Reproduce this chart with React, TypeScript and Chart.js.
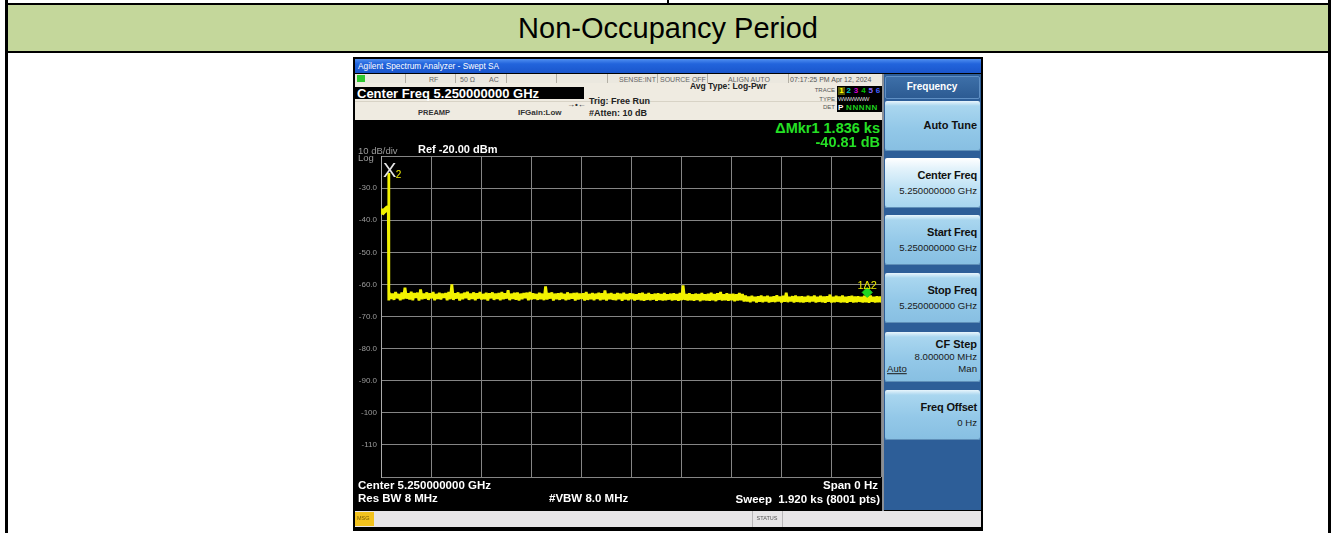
import React, { useEffect, useRef } from 'react';
import { Chart, registerables } from 'chart.js';

Chart.register(...registerables);

const FONT = "'Liberation Sans', Arial, Helvetica, sans-serif";

// ---------- data ----------
const TITLE = 'Non-Occupancy Period';
const SWEEP_TIME_S = 1920;
const X_DIV_S = 192;
const REF_LEVEL_DBM = -20;
const BOTTOM_LEVEL_DBM = -120;
const Y_DIV_DB = 10;
const Y_TICK_VALUES = [-20, -30, -40, -50, -60, -70, -80, -90, -100, -110, -120];
const Y_TICK_LABELS = ['', '-30.0', '-40.0', '-50.0', '-60.0', '-70.0', '-80.0', '-90.0', '-100', '-110', ''];

// trace before the channel move (time s / level dBm)
const PRE_TIME = [0, 2, 4, 6, 8, 10, 12, 14, 16, 18, 20, 22, 24, 26, 28, 29.6, 30.4];
const PRE_LEVEL = [-37.8, -36.4, -37.9, -36.6, -38.0, -36.8, -37.6, -36.2, -37.4, -35.9, -37.1, -35.6, -36.6, -35.4, -35.9, -25.3, -65.0];

// noise floor after the move, sampled every NOISE_STEP_S from NOISE_START_S
const NOISE_START_S = 32;
const NOISE_STEP_S = 6;
const NOISE_LEVEL = [
  -62.6, -64.5, -62.9, -64.8, -62.4, -64.3, -63.0, -64.9, -62.5, -64.6, -61.0, -64.4,
  -62.8, -64.7, -62.3, -64.9, -62.7, -64.2, -62.6, -65.0, -61.6, -64.6, -62.9, -64.4,
  -62.5, -64.8, -62.8, -64.3, -62.4, -64.9, -63.0, -64.5, -62.6, -64.7, -62.9, -64.2,
  -62.7, -64.9, -62.4, -64.6, -60.0, -64.8, -62.8, -64.4, -62.5, -65.0, -62.9, -64.6,
  -62.6, -64.3, -62.3, -64.8, -62.9, -64.5, -62.5, -64.9, -62.8, -64.4, -62.4, -64.7,
  -63.0, -64.6, -62.6, -65.0, -62.8, -64.3, -62.5, -64.8, -62.9, -64.5, -62.7, -64.9,
  -62.4, -64.6, -62.8, -64.4, -61.8, -64.9, -62.9, -64.5, -62.6, -64.8, -62.5, -65.0,
  -62.9, -64.6, -62.7, -64.3, -62.6, -64.9, -62.4, -64.7, -62.8, -64.5, -63.0, -64.8,
  -62.6, -64.6, -62.9, -64.9, -60.6, -64.7, -62.7, -64.4, -62.5, -65.0, -62.9, -64.6,
  -62.8, -64.8, -62.6, -64.5, -63.0, -64.9, -62.5, -64.7, -62.9, -64.4, -62.7, -65.0,
  -62.6, -64.7, -62.9, -64.5, -62.8, -65.0, -62.4, -64.8, -63.0, -64.6, -62.7, -64.9,
  -62.9, -64.5, -62.6, -64.9, -62.8, -64.7, -61.9, -65.0, -62.9, -64.6, -62.7, -64.8,
  -63.0, -64.9, -62.7, -64.6, -62.9, -65.1, -62.6, -64.7, -63.0, -64.9, -62.8, -64.6,
  -62.9, -65.0, -63.1, -64.7, -62.8, -64.9, -62.6, -65.1, -63.0, -64.8, -62.7, -64.9,
  -63.1, -64.7, -62.9, -65.1, -62.8, -64.8, -63.0, -65.0, -62.7, -64.9, -63.1, -64.7,
  -62.9, -65.0, -62.8, -64.8, -63.0, -65.1, -62.7, -64.9, -60.3, -64.8, -63.0, -65.0,
  -62.8, -64.9, -63.1, -65.1, -62.9, -64.8, -63.0, -65.2, -62.7, -64.9, -63.1, -65.0,
  -62.9, -65.1, -62.6, -64.9, -63.0, -65.2, -62.8, -64.8, -62.4, -65.0, -63.1, -64.9,
  -62.8, -65.1, -63.0, -64.9, -62.9, -65.2, -63.1, -65.0, -62.7, -64.9, -63.0, -65.3,
  -63.5, -65.3, -63.8, -65.5, -63.6, -65.2, -63.9, -65.6, -63.7, -65.4, -63.5, -65.5,
  -63.8, -65.3, -63.6, -65.6, -63.9, -65.4, -63.7, -65.5, -63.4, -65.3, -63.8, -65.6,
  -63.6, -65.4, -62.6, -65.5, -63.9, -65.3, -63.7, -65.6, -63.5, -65.4, -63.8, -65.5,
  -63.7, -65.6, -63.9, -65.4, -63.6, -65.5, -63.8, -65.3, -63.5, -65.6, -63.9, -65.4,
  -63.6, -65.5, -63.8, -65.7, -63.7, -65.4, -63.2, -65.6, -63.9, -65.5, -63.6, -65.4,
  -63.8, -65.6, -63.5, -65.5, -63.9, -65.7, -63.7, -65.4, -63.6, -65.6, -63.8, -65.5,
  -63.7, -65.4, -63.9, -65.6, -63.6, -65.5, -63.8, -65.7, -63.5, -65.4, -63.9, -65.6,
  -63.7, -65.5, -63.8, -65.6,
];

const MKR2_TIME = 29.6;
const MKR2_LEVEL = -25.3;
const MKR1_TIME = 1867;
const MKR1_LEVEL = -62.5;

const SOFTKEYS = [
  { title: 'Auto Tune', lines: [] as string[] },
  { title: 'Center Freq', lines: ['5.250000000 GHz'] },
  { title: 'Start Freq', lines: ['5.250000000 GHz'] },
  { title: 'Stop Freq', lines: ['5.250000000 GHz'] },
  { title: 'CF Step', lines: ['8.000000 MHz', 'AUTO_MAN'] },
  { title: 'Freq Offset', lines: ['0 Hz'] },
];

// ---------- helpers ----------
type TP = {
  x: number; y: number; children: React.ReactNode; size?: number; color?: string;
  weight?: number; align?: 'left' | 'right' | 'center'; style?: React.CSSProperties;
};
function T({ x, y, children, size = 8, color = '#000', weight = 400, align = 'left', style }: TP) {
  const s: React.CSSProperties = {
    position: 'absolute', top: y, fontFamily: FONT, fontSize: size, color, fontWeight: weight,
    lineHeight: 1, whiteSpace: 'nowrap', transform: 'translateY(-50%)', ...style,
  };
  if (align === 'left') s.left = x;
  else if (align === 'right') s.right = 1335 - x;
  else { s.left = x; s.transform = 'translate(-50%, -50%)'; }
  return <div style={s}>{children}</div>;
}

function Box({ l, t, w, h, bg, style }: { l: number; t: number; w: number; h: number; bg: string; style?: React.CSSProperties }) {
  return <div style={{ position: 'absolute', left: l, top: t, width: w, height: h, background: bg, ...style }} />;
}

const markerPlugin = {
  id: 'markerLabels',
  afterDatasetsDraw(chart: any) {
    const { ctx, scales } = chart;
    const xs = scales.x, ys = scales.y;
    const x2 = xs.getPixelForValue(MKR2_TIME), y2 = ys.getPixelForValue(MKR2_LEVEL);
    ctx.save();
    ctx.textBaseline = 'alphabetic';
    ctx.font = `20px ${FONT}`;
    ctx.fillStyle = '#e6e6e6';
    ctx.textAlign = 'center';
    ctx.fillText('X', x2 + 1, y2 + 4);
    ctx.font = `10px ${FONT}`;
    ctx.fillStyle = '#eeee00';
    ctx.textAlign = 'left';
    ctx.fillText('2', x2 + 7, y2 + 5);
    const x1 = xs.getPixelForValue(MKR1_TIME), y1 = ys.getPixelForValue(MKR1_LEVEL);
    ctx.font = `11px ${FONT}`;
    ctx.fillStyle = '#e8e800';
    ctx.textAlign = 'center';
    ctx.fillText('1\u03942', x1, y1 - 3.5);
    ctx.restore();
  },
};

function TraceChart() {
  const ref = useRef<HTMLCanvasElement | null>(null);
  useEffect(() => {
    const canvas = ref.current!;
    const trace: { x: number; y: number }[] = [];
    PRE_TIME.forEach((t, i) => trace.push({ x: t, y: PRE_LEVEL[i] }));
    NOISE_LEVEL.forEach((v, i) => trace.push({ x: NOISE_START_S + i * NOISE_STEP_S, y: v }));
    const chart = new Chart(canvas, {
      type: 'line',
      data: {
        datasets: [
          {
            data: trace, borderColor: '#f2f200', borderWidth: 2.8, pointRadius: 0,
            borderJoinStyle: 'bevel', tension: 0, fill: false, order: 2,
          } as any,
          {
            type: 'scatter', data: [{ x: MKR1_TIME, y: MKR1_LEVEL }], pointStyle: 'rectRot',
            pointRadius: 5, backgroundColor: '#22d822', borderColor: '#22d822', order: 1,
          } as any,
        ],
      },
      options: {
        animation: false,
        responsive: false,
        devicePixelRatio: 1,
        layout: { autoPadding: false, padding: { top: 8, bottom: 5, right: 2, left: 0 } },
        plugins: { legend: { display: false }, tooltip: { enabled: false } },
        scales: {
          x: {
            type: 'linear', min: 0, max: SWEEP_TIME_S,
            ticks: { display: false, stepSize: X_DIV_S },
            grid: { color: '#858585', lineWidth: 1, drawTicks: false },
            border: { display: false },
            afterFit: (s: any) => { s.height = 0; s.paddingLeft = 0; s.paddingRight = 0; },
          },
          y: {
            type: 'linear', min: BOTTOM_LEVEL_DBM, max: REF_LEVEL_DBM,
            ticks: {
              stepSize: Y_DIV_DB, color: '#9c9c9c', padding: 4,
              font: { family: FONT, size: 8 },
              callback: (v: any) => {
                const i = Y_TICK_VALUES.indexOf(Math.round(Number(v)));
                return i >= 0 ? Y_TICK_LABELS[i] : '';
              },
            },
            grid: { color: '#858585', lineWidth: 1, drawTicks: false },
            border: { display: true, color: '#aaaaaa', width: 1 },
            afterFit: (s: any) => { s.width = 26; s.paddingTop = 0; s.paddingBottom = 0; },
          },
        },
      } as any,
      plugins: [markerPlugin],
    });
    return () => chart.destroy();
  }, []);
  return (
    <canvas ref={ref} width={528} height={334}
      style={{ position: 'absolute', left: 355, top: 148, width: 528, height: 334 }} />
  );
}

const keyText: React.CSSProperties = {
  position: 'absolute', transform: 'translateY(-50%)', fontFamily: FONT, lineHeight: 1, whiteSpace: 'nowrap', color: '#111',
};

function Softkey({ top, title, lines, selected }: { top: number; title: string; lines: string[]; selected?: boolean }) {
  const bg = selected
    ? 'linear-gradient(#ffffff 0%, #e4f3fb 20%, #bfe2f5 60%, #a6d5ef 100%)'
    : 'linear-gradient(#e8f5fc 0%, #a9d6ef 10%, #93c8e8 55%, #87bfe2 100%)';
  return (
    <div style={{
      position: 'absolute', left: 885, top, width: 95, height: 50, background: bg,
      borderRadius: 2, boxShadow: 'inset 0 -1px 0 #5f8fb8',
    }}>
      {lines.length === 0 && (
        <div style={{ ...keyText, right: 3, top: 24, fontSize: 11, fontWeight: 700 }}>{title}</div>
      )}
      {lines.length === 1 && (
        <>
          <div style={{ ...keyText, right: 3, top: 17, fontSize: 11, fontWeight: 700, letterSpacing: -0.2 }}>{title}</div>
          <div style={{ ...keyText, right: 3, top: 33, fontSize: 9.6, color: '#1a1a1a' }}>{lines[0]}</div>
        </>
      )}
      {lines.length === 2 && (
        <>
          <div style={{ ...keyText, right: 3, top: 12, fontSize: 11, fontWeight: 700 }}>{title}</div>
          <div style={{ ...keyText, right: 3, top: 24.5, fontSize: 9.6, color: '#1a1a1a' }}>{lines[0]}</div>
          <div style={{ ...keyText, left: 2, top: 37, fontSize: 9.6, color: '#1a1a1a', textDecoration: 'underline' }}>Auto</div>
          <div style={{ ...keyText, right: 3, top: 37, fontSize: 9.6, color: '#1a1a1a' }}>Man</div>
        </>
      )}
    </div>
  );
}

export default function App() {
  useEffect(() => { document.body.style.margin = '0'; }, []);
  const softTops = [101, 158, 215, 273, 332, 390];
  const traceNums = [
    { n: '1', c: '#ffff00', bg: '#5a5a00' },
    { n: '2', c: '#00c8c8' },
    { n: '3', c: '#d000d0' },
    { n: '4', c: '#00c000' },
    { n: '5', c: '#8a6cff' },
    { n: '6', c: '#4060ff' },
  ];
  return (
    <div style={{ position: 'fixed', left: 0, top: 0, width: 1335, height: 533, background: '#fff', overflow: 'hidden' }}>
      {/* table frame */}
      <Box l={8} t={5} w={1320} h={46} bg="#c4d79b" />
      <Box l={5} t={0} w={3} h={533} bg="#000" />
      <Box l={1328} t={0} w={3} h={533} bg="#000" />
      <Box l={5} t={3} w={1326} h={2} bg="#000" />
      <Box l={5} t={51} w={1326} h={2} bg="#000" />
      <Box l={667} t={0} w={2} h={3} bg="#000" />
      <T x={668} y={28} size={29} align="center" color="#000">{TITLE}</T>

      {/* analyzer screen */}
      <Box l={353} t={57} w={630} h={474} bg="#000" />
      <Box l={355} t={59} w={626} h={14} bg="linear-gradient(#4f8ef0 0%, #2264dc 35%, #1a56cc 100%)" />
      <T x={358} y={66} size={8.3} color="#fff">Agilent Spectrum Analyzer - Swept SA</T>

      {/* status row */}
      <Box l={355} t={74} w={527} h={9} bg="#ebe8df" />
      <Box l={357} t={75} w={8} h={7} bg="#2ec82e" />
      {[405, 455, 506, 556, 607, 657, 707, 788].map((x) => (
        <Box key={x} l={x} t={74} w={1} h={9} bg="#b3afa4" />
      ))}
      <T x={429} y={78.5} size={7} color="#666">RF</T>
      <T x={460} y={78.5} size={7} color="#666">50 Ω</T>
      <T x={489} y={78.5} size={7} color="#666">AC</T>
      <T x={619} y={78.5} size={7} color="#666">SENSE:INT</T>
      <T x={660} y={78.5} size={7} color="#666">SOURCE OFF</T>
      <T x={728} y={78.5} size={7} color="#666">ALIGN AUTO</T>
      <T x={790} y={78.5} size={7} color="#555">07:17:25 PM Apr 12, 2024</T>

      {/* settings area */}
      <Box l={355} t={83} w={527} h={37} bg="#efebe1" />
      <Box l={355} t={87} w={229} h={12} bg="#000" />
      <T x={357} y={92.5} size={13} weight={700} color="#fff">Center Freq 5.250000000 GHz</T>
      <Box l={355} t={101} w={527} h={1} bg="#d8d3c6" />
      <T x={418} y={113} size={7.5} weight={700} color="#333">PREAMP</T>
      <T x={518} y={113} size={8} weight={700} color="#333">IFGain:Low</T>
      <T x={567} y={105} size={8} weight={700} color="#333">→•←</T>
      <T x={589} y={101} size={9} weight={700} color="#222">Trig: Free Run</T>
      <T x={589} y={113} size={9} weight={700} color="#222">#Atten: 10 dB</T>
      <T x={690} y={86} size={8.5} weight={700} color="#222">Avg Type: Log-Pwr</T>
      <T x={835} y={90} size={6} color="#555" align="right">TRACE</T>
      <T x={835} y={98.5} size={6} color="#555" align="right">TYPE</T>
      <T x={835} y={107} size={6} color="#555" align="right">DET</T>
      <Box l={837} t={86} w={45} h={26} bg="#000" />
      {traceNums.map((d, i) => (
        <div key={d.n} style={{ position: 'absolute', left: 838 + i * 7.3, top: 86.5, width: 7, height: 8, background: d.bg || 'transparent', color: d.c, fontFamily: FONT, fontSize: 8, fontWeight: 700, lineHeight: '8px', textAlign: 'center' }}>{d.n}</div>
      ))}
      <T x={838} y={99} size={6} color="#ddd" style={{ letterSpacing: -0.5 }}>WWWWWW</T>
      <T x={838} y={107.5} size={8} weight={700} color="#fff">P</T>
      <T x={846} y={107.5} size={8} weight={700} color="#1fd01f" style={{ letterSpacing: 0.6 }}>NNNNN</T>

      {/* plot area */}
      <TraceChart />
      <T x={880} y={127.5} size={14.5} weight={700} color="#25e025" align="right">ΔMkr1 1.836 ks</T>
      <T x={880} y={141.5} size={14.5} weight={700} color="#25e025" align="right">-40.81 dB</T>
      <T x={358} y={151} size={9.5} color="#9c9c9c">10 dB/div</T>
      <T x={358} y={157.5} size={9.5} color="#9c9c9c">Log</T>
      <T x={418} y={148.5} size={11} weight={700} color="#fff">Ref -20.00 dBm</T>
      <T x={358} y={485.5} size={11.5} weight={700} color="#fff">Center 5.250000000 GHz</T>
      <T x={358} y={499} size={11.5} weight={700} color="#fff">Res BW 8 MHz</T>
      <T x={549} y={499} size={11.5} weight={700} color="#fff">#VBW 8.0 MHz</T>
      <T x={878} y={485.5} size={11.5} weight={700} color="#fff" align="right">Span 0 Hz</T>
      <T x={880} y={499.5} size={11.5} weight={700} color="#fff" align="right">Sweep&nbsp;&nbsp;1.920 ks (8001 pts)</T>

      {/* softkey panel */}
      <Box l={882} t={74} w={2} h={437} bg="#8a8f96" />
      <Box l={884} t={74} w={97} h={436} bg="#2d5e98" />
      <div style={{ position: 'absolute', left: 885, top: 76, width: 93, height: 21, background: 'linear-gradient(#3d6fa8, #2c5b93)', border: '1px solid #5f8fc4', borderRadius: 2 }} />
      <T x={932} y={87} size={10} weight={700} color="#fff" align="center">Frequency</T>
      {SOFTKEYS.map((k, i) => (
        <Softkey key={k.title} top={softTops[i]} title={k.title} lines={k.lines} selected={i === 1} />
      ))}

      {/* bottom status bar */}
      <Box l={355} t={511} w={626} h={16} bg="#e7e5e7" />
      <Box l={355} t={512} w={19} h={14} bg="#f2c21e" />
      <T x={357} y={519} size={5.5} color="#7a5a00">MSG</T>
      <Box l={752} t={511} w={1} h={16} bg="#b8b6b8" />
      <Box l={782} t={511} w={1} h={16} bg="#b8b6b8" />
      <T x={767} y={519} size={5.5} color="#555" align="center">STATUS</T>
    </div>
  );
}
